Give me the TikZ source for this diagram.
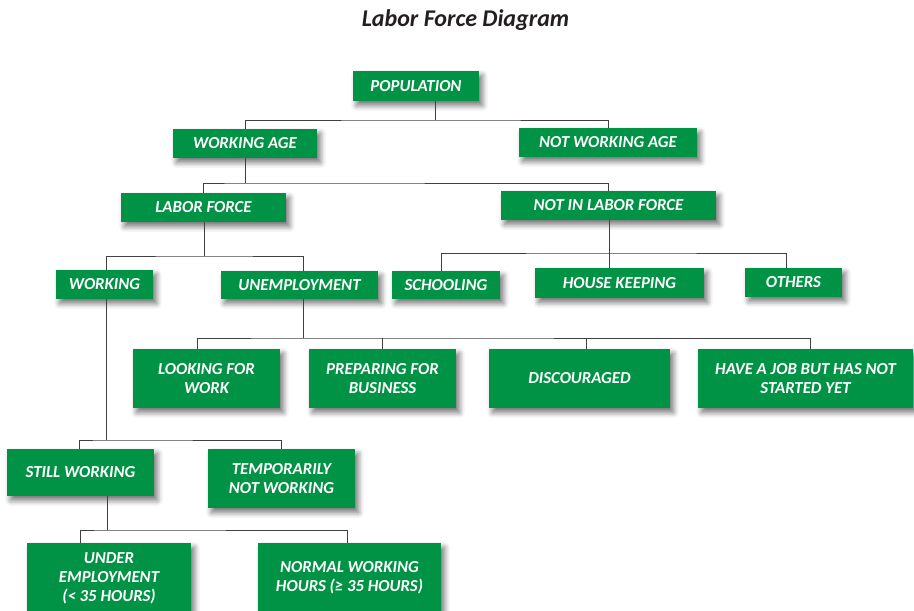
\documentclass[tikz,border=0pt]{standalone}
\usepackage{fontspec}
\setmainfont{Carlito}
\usetikzlibrary{shadows.blur}
\definecolor{boxgreen}{RGB}{0,146,69}
\definecolor{linegray}{RGB}{64,64,64}
\definecolor{titlegray}{RGB}{35,31,32}

\begin{document}
\begin{tikzpicture}[x=1pt, y=-1pt,
    box/.style={fill=boxgreen, text=white, align=center, inner sep=0pt,
        font=\fontsize{16.8}{19}\selectfont\bfseries\itshape,
        blur shadow={shadow xshift=3.5pt, shadow yshift=-4.5pt, shadow blur radius=5.5pt, shadow opacity=55}},
    link/.style={draw=linegray, line width=0.9pt}]
    \useasboundingbox (0,0) rectangle (914,611);
    \node[anchor=base, text=titlegray, font=\fontsize{24}{28}\selectfont\bfseries\itshape] (T) at (465.5,26) {Labor Force Diagram};
    % boxes
    \node[box, minimum width=126, minimum height=30] (POP) at (416,86) {POPULATION};
    \node[box, minimum width=144, minimum height=29] (WA) at (245,143.5) {WORKING AGE};
    \node[box, minimum width=178, minimum height=29] (NWA) at (608,142.5) {NOT WORKING AGE};
    \node[box, minimum width=165, minimum height=29] (LF) at (203.5,207.5) {LABOR FORCE};
    \node[box, minimum width=215, minimum height=29] (NLF) at (608.5,205.5) {NOT IN LABOR FORCE};
    \node[box, minimum width=97, minimum height=29] (W) at (104.5,284.5) {WORKING};
    \node[box, minimum width=157, minimum height=28] (U) at (299.5,285) {UNEMPLOYMENT};
    \node[box, minimum width=108, minimum height=28] (S) at (446,285) {SCHOOLING};
    \node[box, minimum width=169, minimum height=30] (HK) at (619.5,283) {HOUSE KEEPING};
    \node[box, minimum width=97, minimum height=29] (O) at (793.5,282.5) {OTHERS};
    \node[box, minimum width=147, minimum height=59] (LW) at (206.5,378.5) {LOOKING FOR\\WORK};
    \node[box, minimum width=147, minimum height=59] (PB) at (382.5,378.5) {PREPARING FOR\\BUSINESS};
    \node[box, minimum width=181, minimum height=59] (D) at (579.5,378.5) {DISCOURAGED};
    \node[box, minimum width=215, minimum height=59] (J) at (805.5,378.5) {HAVE A JOB BUT HAS NOT\\STARTED YET};
    \node[box, minimum width=147, minimum height=47] (SW) at (80.5,472.5) {STILL WORKING};
    \node[box, minimum width=147, minimum height=59] (TW) at (281.5,478.5) {TEMPORARILY\\NOT WORKING};
    \node[box, minimum width=164, minimum height=70] (UE) at (109,578) {UNDER\\EMPLOYMENT\\(< 35 HOURS)};
    \node[box, minimum width=183, minimum height=70] (NW) at (349.5,578) {NORMAL WORKING\\HOURS (≥ 35 HOURS)};
    % bus lines
    \coordinate (B1) at (435,120);
    \coordinate (B2) at (245,183);
    \coordinate (B3) at (204,256);
    \coordinate (B4) at (609,253);
    \coordinate (B5) at (303,338);
    \coordinate (B6) at (106,440);
    \coordinate (B7) at (107,530);
    \draw[link] (POP.south -| B1) -- (B1);
    \draw[link] (WA.north) |- (B1) -| (NWA.north);
    \draw[link] (WA.south) -- (B2);
    \draw[link] (LF.north) |- (B2) -| (NLF.north);
    \draw[link] (LF.south -| B3) -- (B3);
    \draw[link] ([xshift=1.5]W.north) |- (B3) -| ([xshift=4]U.north);
    \draw[link] (NLF.south -| B4) -- (HK.north -| B4);
    \draw[link] ([xshift=-5]S.north) |- (B4) -| ([xshift=-7]O.north);
    \draw[link] (U.south -| B5) -- (B5);
    \draw[link] ([xshift=-9]LW.north) |- (B5) -| ([xshift=5]J.north);
    \draw[link] (PB.north) -- (PB.north |- B5);
    \draw[link] ([xshift=7]D.north) -- ([xshift=7]D.north |- B5);
    \draw[link] (W.south -| B6) -- (B6);
    \draw[link] ([xshift=-1.5]SW.north) |- (B6) -| (TW.north);
    \draw[link] (SW.south -| B7) -- (B7);
    \draw[link] ([xshift=-29]UE.north) |- (B7) -| ([xshift=-2.5]NW.north);
\end{tikzpicture}
\end{document}
